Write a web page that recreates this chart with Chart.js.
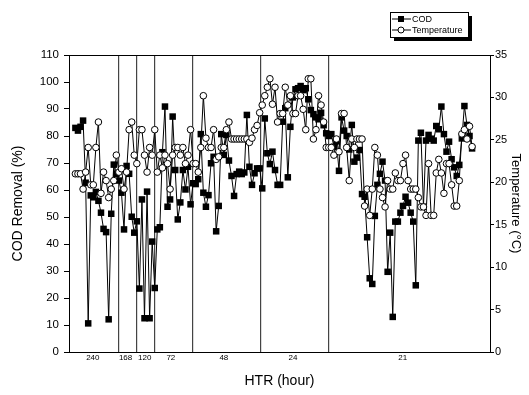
<!DOCTYPE html>
<html>
<head>
<meta charset="utf-8">
<script src="https://cdn.jsdelivr.net/npm/chart.js@4"></script>
<style>
  html, body { margin: 0; padding: 0; background: #fff; }
  canvas { display: block; }
</style>
</head>
<body>
<canvas id="chart" width="529" height="395"></canvas>
<script>
// COD removal (%) per sample
let codValues = [
  83, 82, 83.4, 85.7, 62.7, 10.6, 58, 57.3, 59.3, 56,
  51.6, 45.6, 44.4, 12.1, 51.2, 69.4, 66, 63.5, 59, 45.4,
  68.9, 66, 50.1, 44.2, 48.4, 23.5, 56.5, 12.5, 59.4, 12.5,
  40.9, 23.7, 45.4, 46.2, 74, 90.9, 53.8, 56.5, 87.2, 67.4,
  49.1, 55.4, 67.4, 60.2, 68.6, 54.7, 62.5, 62.2, 64, 80.7,
  59, 53.8, 58.1, 69.9, 72.3, 44.7, 54.1, 80.7, 73, 80.4,
  70.9, 65.2, 57.8, 65.9, 66.8, 65.9, 66.5, 87.8, 68.6, 61.9,
  66.2, 68, 68, 60.6, 86.5, 73.6, 69.6, 74.2, 67.4, 61.9,
  61.9, 85.3, 90.3, 64.7, 83.4, 94.3, 97.3, 97.7, 98.5, 97,
  97.7, 93.6, 89.6, 88.1, 86.9, 86.2, 88.6, 84, 81, 80,
  80.7, 76, 78, 67.1, 86.9, 82, 80, 75, 84.1, 70.5,
  72, 74.8, 58.5, 57.5, 42.5, 27.3, 25.2, 50.4, 61.9, 66,
  70.5, 63.5, 29.7, 44.2, 13, 48.3, 48.3, 51.6, 54.1, 57.5,
  55.3, 51.6, 48.3, 24.7, 78.3, 81.2, 53.8, 78.3, 80.4, 79,
  78.3, 83.7, 82.5, 90.9, 80.7, 74.2, 77.9, 71.4, 68.4, 65.2,
  69.3, 79.1, 91.1, 84.1, 80, 75.4
];

// Temperature (°C) per sample
let tempValues = [
  21, 21, 21, 19.2, 21.2, 24.1, 19.7, 19.7, 24.1, 27.1,
  18.7, 21.2, 20.2, 18.2, 19.2, 20.2, 23.2, 21.2, 21.6, 19.2,
  21.2, 26.2, 27.1, 23.2, 22.2, 26.2, 26.2, 23.2, 21.2, 24.1,
  23.2, 26.2, 21.2, 23.2, 21.7, 23.2, 22.2, 19.2, 23.2, 24.1,
  24.1, 23.2, 24.1, 22.2, 23.2, 26.2, 22.2, 22.2, 21.2, 24.1,
  30.2, 25.2, 24.1, 24.1, 26.2, 22.7, 23, 24.1, 24.1, 26.2,
  27.1, 25.1, 25.1, 25.1, 25.1, 25.1, 25.1, 25.1, 24.7, 25.2,
  26.2, 26.7, 28.2, 29.1, 30.2, 31.2, 32.2, 29.2, 31.2, 27.1,
  28.1, 28.1, 31.2, 29.1, 30.2, 28.1, 28.1, 30.2, 30.2, 28.6,
  26.2, 32.2, 32.2, 25.1, 26.2, 30.2, 29.1, 27.1, 24.1, 24.1,
  24.1, 23.2, 25.1, 23.6, 28.1, 28.1, 24.1, 20.2, 25.1, 24.1,
  25.1, 25.1, 25.1, 17.2, 19.2, 16.1, 19.2, 24.1, 23.2, 19.2,
  18.2, 17.1, 20.2, 19.2, 19.2, 21.1, 20.2, 20.2, 22.2, 23.2,
  20.2, 19.2, 19.2, 19.2, 18.2, 17.1, 17.1, 16.1, 22.2, 16.1,
  16.1, 21.1, 22.7, 21.1, 18.7, 22.2, 22.2, 19.7, 17.2, 17.2,
  20.2, 25.7, 26.2, 25.1, 26.6, 24.2
];

// HTR periods: boundaries and labels (in sample units)
let periodBounds = [16.9, 24.1, 30.9, 45.6, 72.5, 98.8];
let periodLabels = ["240", "168", "120", "72", "48", "24", "21"];
let periodLabelPos = [6.8, 19.6, 27.1, 37.3, 58, 85, 127.9];

let leftTicks = { min: 0, max: 110, step: 10 };
let rightTicks = { min: 0, max: 35, step: 5 };

const FONT = "'Liberation Sans', Arial, sans-serif";

// extra drawing: top frame, period labels, legend box
const extras = {
    id: "extras",
    afterDraw(chart) {
        let ctx = chart.ctx;
        let area = chart.chartArea;
        let xs = chart.scales.x;

        ctx.save();
        ctx.strokeStyle = "#000";
        ctx.lineWidth = 1;
        ctx.beginPath();
        ctx.moveTo(area.left, area.top + 0.5);
        ctx.lineTo(area.right, area.top + 0.5);
        ctx.stroke();

        // period labels
        ctx.fillStyle = "#000";
        ctx.font = "8px " + FONT;
        ctx.textAlign = "center";
        ctx.textBaseline = "middle";
        periodLabels.forEach((t, i) => {
            ctx.fillText(t, xs.getPixelForValue(periodLabelPos[i]), area.bottom + 6);
        });

        // legend
        let bx = 390, by = 12, bw = 78, bh = 25;
        ctx.fillStyle = "#000";
        ctx.fillRect(bx + 4, by + 4, bw, bh);
        ctx.fillStyle = "#fff";
        ctx.fillRect(bx, by, bw, bh);
        ctx.strokeStyle = "#000";
        ctx.lineWidth = 1;
        ctx.strokeRect(bx + 0.5, by + 0.5, bw, bh);

        let rows = [
            { text: "COD", y: by + 7, style: "rect" },
            { text: "Temperature", y: by + 18, style: "circle" }
        ];
        ctx.font = "9px " + FONT;
        ctx.textAlign = "left";
        rows.forEach(r => {
            ctx.strokeStyle = "#000";
            ctx.beginPath();
            ctx.moveTo(bx + 2, r.y);
            ctx.lineTo(bx + 21, r.y);
            ctx.stroke();
            if (r.style === "rect") {
                ctx.fillStyle = "#000";
                ctx.fillRect(bx + 8, r.y - 3, 6, 6);
            } else {
                ctx.fillStyle = "#fff";
                ctx.beginPath();
                ctx.arc(bx + 11, r.y, 3, 0, Math.PI * 2);
                ctx.fill();
                ctx.stroke();
            }
            ctx.fillStyle = "#000";
            ctx.fillText(r.text, bx + 22, r.y + 0.5);
        });
        ctx.restore();
    }
};

let ctx = document.getElementById("chart").getContext("2d");

new Chart(ctx, {
    type: "line",
    data: {
        datasets: [
            {
                label: "COD",
                data: codValues.map((v, i) => ({ x: i, y: v })),
                yAxisID: "y",
                borderColor: "#000",
                borderWidth: 1,
                pointStyle: "rect",
                pointRadius: 4.6,
                pointBackgroundColor: "#000",
                pointBorderColor: "#000",
                pointBorderWidth: 0,
                tension: 0,
                order: 2
            },
            {
                label: "Temperature",
                data: tempValues.map((v, i) => ({ x: i, y: v })),
                yAxisID: "y2",
                borderColor: "#000",
                borderWidth: 1,
                pointStyle: "circle",
                pointRadius: 3.3,
                pointBackgroundColor: "#fff",
                pointBorderColor: "#000",
                pointBorderWidth: 1,
                tension: 0,
                order: 1
            }
        ]
    },
    options: {
        responsive: false,
        animation: false,
        devicePixelRatio: 1,
        layout: { padding: { top: 55, left: 0, right: 0, bottom: 0 } },
        plugins: {
            legend: { display: false },
            tooltip: { enabled: false }
        },
        scales: {
            x: {
                type: "linear",
                min: -2.5,
                max: 162,
                afterBuildTicks: s => { s.ticks = periodBounds.map(v => ({ value: v })); },
                afterFit: s => { s.height = 43; },
                ticks: { display: false },
                grid: { color: "#444", lineWidth: 1.2, drawTicks: false },
                border: { display: true, color: "#000", width: 1 },
                title: {
                    display: true,
                    text: "HTR (hour)",
                    color: "#000",
                    font: { family: FONT, size: 14 },
                    padding: { top: 0, bottom: 5 }
                }
            },
            y: {
                position: "left",
                min: leftTicks.min,
                max: leftTicks.max,
                afterFit: s => { s.width = 69; },
                ticks: {
                    stepSize: leftTicks.step,
                    color: "#000",
                    padding: 5,
                    font: { family: FONT, size: 11.5 }
                },
                grid: { drawOnChartArea: false, drawTicks: true, tickLength: 5, tickColor: "#000" },
                border: { display: true, color: "#000", width: 1 },
                title: {
                    display: true,
                    text: "COD Removal (%)",
                    color: "#000",
                    font: { family: FONT, size: 14 },
                    padding: { top: 10, bottom: 0 }
                }
            },
            y2: {
                position: "right",
                min: rightTicks.min,
                max: rightTicks.max,
                afterFit: s => { s.width = 39; },
                ticks: {
                    stepSize: rightTicks.step,
                    color: "#000",
                    padding: 1,
                    font: { family: FONT, size: 11 }
                },
                grid: { drawOnChartArea: false, drawTicks: true, tickLength: 4, tickColor: "#000" },
                border: { display: true, color: "#000", width: 1 },
                title: {
                    display: true,
                    text: "Temperature (°C)",
                    color: "#000",
                    font: { family: FONT, size: 13 },
                    padding: { top: 6, bottom: 0 }
                }
            }
        }
    },
    plugins: [extras]
});
</script>
</body>
</html>
